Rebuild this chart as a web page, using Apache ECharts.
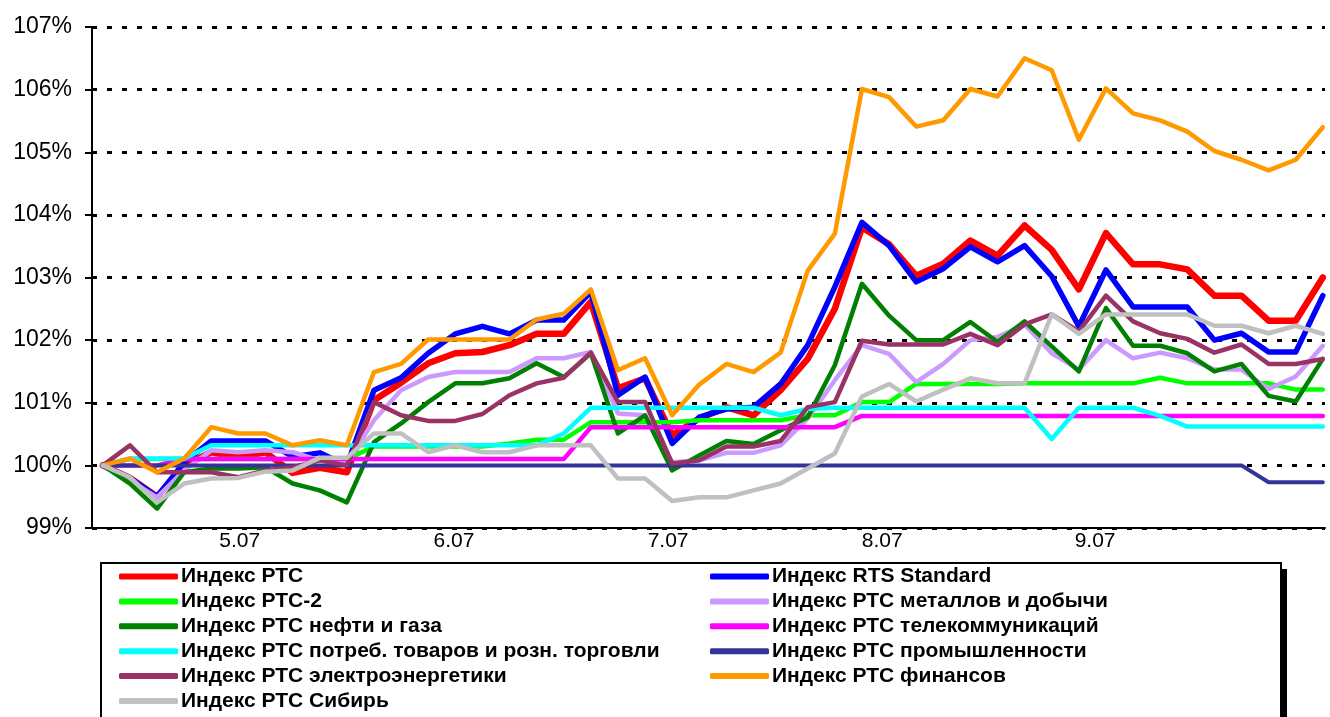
<!DOCTYPE html>
<html>
<head>
<meta charset="utf-8">
<script src="https://cdn.jsdelivr.net/npm/echarts@6/dist/echarts.min.js"></script>
<style>
html,body{margin:0;padding:0;background:#fff;}
#chart{width:1330px;height:717px;}
</style>
</head>
<body>
<div id="chart"></div>
<script>
// x tick labels (dates) and their positions on the point-index scale
const xLabels = ['5.07', '6.07', '7.07', '8.07', '9.07'];
const xLabelPos = [5.05, 12.95, 20.85, 28.75, 36.6];
const yTicks = [99, 100, 101, 102, 103, 104, 105, 106, 107];

const seriesNames = [
  'Индекс РТС',
  'Индекс RTS Standard',
  'Индекс РТС-2',
  'Индекс РТС металлов и добычи',
  'Индекс РТС нефти и газа',
  'Индекс РТС телекоммуникаций',
  'Индекс РТС потреб. товаров и розн. торговли',
  'Индекс РТС промышленности',
  'Индекс РТС электроэнергетики',
  'Индекс РТС финансов',
  'Индекс РТС Сибирь'
];

const rts = [100,99.8,99.5,100.0,100.21,100.13,100.21,99.88,99.96,99.89,101.04,101.32,101.63,101.79,101.81,101.92,102.1,102.1,102.61,101.23,101.39,100.48,100.75,100.93,100.8,101.2,101.7,102.5,103.8,103.53,103.03,103.22,103.59,103.35,103.83,103.44,102.81,103.71,103.21,103.21,103.13,102.71,102.71,102.31,102.31,103.0];
const rtsStandard = [100,99.8,99.5,100.05,100.39,100.39,100.39,100.14,100.2,100.0,101.2,101.4,101.79,102.1,102.22,102.1,102.32,102.32,102.77,101.12,101.41,100.35,100.77,100.9,100.93,101.3,101.92,102.85,103.88,103.51,102.93,103.14,103.49,103.25,103.51,103.02,102.22,103.12,102.53,102.53,102.53,102.0,102.11,101.81,101.81,102.71];
const rts2 = [100,100.1,100.1,100.1,100.1,100.1,100.1,100.1,100.1,100.1,100.3,100.3,100.3,100.3,100.3,100.35,100.41,100.41,100.69,100.69,100.69,100.69,100.72,100.72,100.72,100.72,100.8,100.8,101.01,101.01,101.3,101.3,101.3,101.3,101.31,101.31,101.31,101.31,101.31,101.4,101.31,101.31,101.31,101.31,101.21,101.21];
const metals = [100,99.76,99.49,99.92,100.24,100.21,100.24,100.21,100.08,100.03,100.72,101.2,101.41,101.49,101.49,101.49,101.71,101.71,101.81,100.83,100.8,100.05,100.08,100.2,100.2,100.32,100.75,101.36,101.92,101.78,101.33,101.62,102.0,102.05,102.25,101.79,101.53,102.0,101.71,101.8,101.71,101.53,101.53,101.22,101.42,101.91];
const oilGas = [100,99.71,99.31,99.89,99.95,99.95,99.97,99.71,99.6,99.41,100.37,100.67,101.01,101.31,101.31,101.39,101.63,101.41,101.79,100.51,100.8,99.92,100.16,100.39,100.34,100.56,100.77,101.6,102.9,102.39,102.0,102.0,102.29,101.97,102.3,101.9,101.5,102.51,101.91,101.91,101.79,101.5,101.62,101.11,101.02,101.7];
const telecom = [100,100,100,100.1,100.1,100.1,100.1,100.1,100.1,100.1,100.1,100.1,100.1,100.1,100.1,100.1,100.1,100.1,100.61,100.61,100.61,100.61,100.61,100.61,100.61,100.61,100.61,100.61,100.79,100.79,100.79,100.79,100.79,100.79,100.79,100.79,100.79,100.79,100.79,100.79,100.79,100.79,100.79,100.79,100.79,100.79];
const consumer = [100,100.11,100.11,100.11,100.32,100.32,100.32,100.32,100.32,100.32,100.32,100.32,100.32,100.32,100.32,100.32,100.32,100.51,100.92,100.92,100.92,100.92,100.92,100.92,100.92,100.8,100.9,100.92,100.92,100.92,100.92,100.92,100.92,100.92,100.92,100.42,100.92,100.92,100.92,100.79,100.62,100.62,100.62,100.62,100.62,100.62];
const industry = [100,100,100,100,100,100,100,100,100,100,100,100,100,100,100,100,100,100,100,100,100,100,100,100,100,100,100,100,100,100,100,100,100,100,100,100,100,100,100,100,100,100,100,99.73,99.73,99.73];
const power = [100,100.32,99.89,99.89,99.89,99.81,99.92,99.97,100.08,100.0,101.01,100.8,100.71,100.71,100.82,101.12,101.31,101.4,101.8,101.01,101.01,100.03,100.08,100.3,100.3,100.39,100.93,101.01,101.99,101.93,101.93,101.93,102.1,101.92,102.25,102.41,102.14,102.71,102.3,102.11,102.02,101.8,101.93,101.62,101.62,101.7];
const finance = [100,100.11,99.89,100.11,100.61,100.51,100.51,100.32,100.4,100.32,101.49,101.62,102.01,102.01,102.01,102.01,102.33,102.42,102.81,101.52,101.71,100.8,101.29,101.62,101.49,101.8,103.11,103.7,106.01,105.88,105.41,105.51,106.01,105.89,106.5,106.31,105.2,106.02,105.62,105.51,105.33,105.02,104.88,104.71,104.88,105.4];
const siberia = [100,99.81,99.41,99.71,99.79,99.8,99.9,99.92,100.12,100.12,100.51,100.51,100.21,100.32,100.21,100.21,100.32,100.32,100.32,99.79,99.79,99.43,99.49,99.49,99.6,99.71,99.95,100.19,101.1,101.3,101.02,101.21,101.39,101.31,101.31,102.41,102.1,102.41,102.41,102.41,102.41,102.23,102.23,102.11,102.23,102.1];

const seriesValues = [rts, rtsStandard, rts2, metals, oilGas, telecom, consumer, industry, power, finance, siberia];
const colors = ['#FF0000','#0000FF','#00FF00','#CC99FF','#008000','#FF00FF','#00FFFF','#333399','#993366','#FF9900','#C0C0C0'];
const widths = [6.5, 5.5, 4.5, 4.5, 4.5, 4.5, 4.5, 4, 4.5, 4.5, 4.5];

const FONT = '"Liberation Sans", Arial, sans-serif';

const chart = echarts.init(document.getElementById('chart'), null, {renderer: 'canvas'});

const series = seriesNames.map((name, k) => ({
  name: name,
  type: 'line',
  symbol: 'none',
  animation: false,
  color: colors[k],
  lineStyle: {color: colors[k], width: widths[k], join: 'round', cap: 'round'},
  data: seriesValues[k].map((v, i) => [i, v])
}));

const legendCommon = {
  orient: 'vertical',
  top: 566,
  height: 151,
  padding: 0,
  itemWidth: 59,
  itemHeight: 6,
  itemGap: 3.9,
  icon: 'roundRect',
  itemStyle: {borderWidth: 0},
  textStyle: {fontFamily: FONT, fontSize: 21, fontWeight: 'bold', color: '#000', padding: [0, 0, 0, -2]}
};

chart.setOption({
  backgroundColor: '#ffffff',
  animation: false,
  color: colors,
  grid: {left: 92, right: 5, top: 27, bottom: 189, containLabel: false},
  graphic: [
    {
      type: 'rect',
      z: 0,
      shape: {x: 107, y: 569, width: 1180, height: 200},
      style: {fill: '#000', lineWidth: 0}
    },
    {
      type: 'rect',
      z: 1,
      shape: {x: 101, y: 563, width: 1180, height: 200},
      style: {fill: '#ffffff', stroke: '#000', lineWidth: 2}
    }
  ],
  legend: [
    Object.assign({}, legendCommon, {left: 119, data: seriesNames.filter((n, i) => i % 2 === 0)}),
    Object.assign({}, legendCommon, {left: 710, data: seriesNames.filter((n, i) => i % 2 === 1)})
  ],
  xAxis: {
    type: 'value',
    min: -0.4,
    max: 45.08,
    axisLine: {show: true, onZero: false, lineStyle: {color: '#000', width: 2}},
    axisTick: {show: false},
    splitLine: {show: false},
    axisLabel: {
      customValues: xLabelPos,
      margin: 3,
      fontFamily: FONT,
      fontSize: 21,
      color: '#000',
      formatter: function (v) {
        const idx = xLabelPos.indexOf(v);
        return idx >= 0 ? xLabels[idx] : '';
      }
    }
  },
  yAxis: {
    type: 'value',
    min: yTicks[0],
    max: yTicks[yTicks.length - 1],
    interval: 1,
    axisLine: {show: true, onZero: false, lineStyle: {color: '#000', width: 2}},
    axisTick: {show: true, length: 7, lineStyle: {color: '#000', width: 2}},
    axisLabel: {formatter: '{value}%', fontFamily: FONT, fontSize: 23, color: '#000', margin: 20},
    splitLine: {show: true, lineStyle: {color: '#000', width: 3, type: [5, 10]}}
  },
  series: series
});
</script>
</body>
</html>
